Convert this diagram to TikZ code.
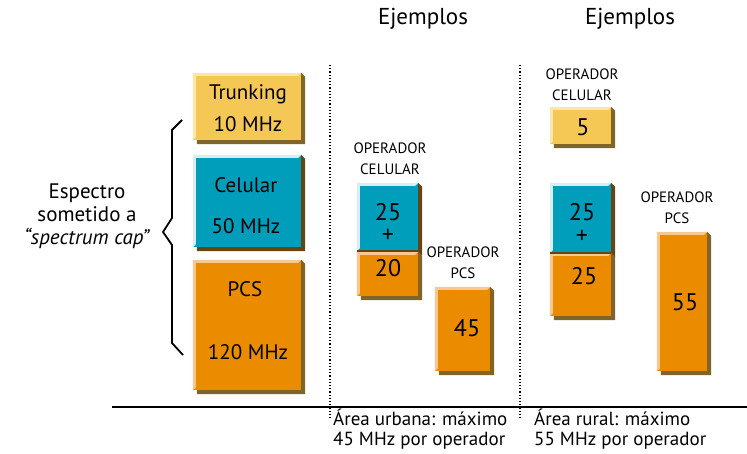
\documentclass[tikz,border=0pt]{standalone}
\usepackage{fontspec}
\setmainfont{PT Sans}
\definecolor{yellowc}{RGB}{245,200,85}
\definecolor{yellowl}{RGB}{251,230,176}
\definecolor{cyanc}{RGB}{0,158,187}
\definecolor{cyanl}{RGB}{216,238,242}
\definecolor{orangec}{RGB}{235,140,0}
\definecolor{orangel}{RGB}{248,200,144}
\definecolor{shadowc}{RGB}{128,100,40}
\definecolor{shadowb}{RGB}{100,70,20}
\tikzset{
  box/.style={fill=#1, draw=none, inner sep=0pt},
  lbl/.style={font=\fontsize{21}{23}\selectfont, inner sep=0pt},
  num/.style={font=\fontsize{24}{26}\selectfont, inner sep=0pt},
  oper/.style={font=\fontsize{15}{21}\selectfont, align=center, inner sep=0pt},
  note/.style={font=\fontsize{19}{20}\selectfont, align=left, anchor=north west, inner sep=0pt},
  head/.style={font=\fontsize{23}{25}\selectfont, inner sep=0pt},
  sep/.style={line width=1.2pt, dotted},
}
% bevelled block: shadow on right/bottom, highlight on top/left
\newcommand{\bevel}[3]{%
  \fill[#3] ([xshift=4pt]#1.south west) -- ([xshift=4pt,yshift=-4pt]#1.south west)
    -- ([xshift=4pt,yshift=-4pt]#1.south east) -- ([xshift=4pt,yshift=-4pt]#1.north east)
    -- (#1.north east) -- (#1.south east) -- cycle;
  \fill[#2] (#1.south west) -- (#1.north west) -- (#1.north east)
    -- ([xshift=-3pt,yshift=-3pt]#1.north east) -- ([xshift=3pt,yshift=-3pt]#1.north west)
    -- ([xshift=3pt,yshift=3pt]#1.south west) -- cycle;
}
\begin{document}
\begin{tikzpicture}[x=1pt,y=-1pt]
\useasboundingbox (0,0) rectangle (747,454);

% headings
\node[head] (h1) at (423,19) {Ejemplos};
\node[head] (h2) at (630,19) {Ejemplos};

% separators and baseline
\coordinate (s1t) at (330,65); \coordinate (s1b) at (330,418);
\coordinate (s2t) at (520,65); \coordinate (s2b) at (520,418);
\draw[sep] (s1t) -- (s1b);
\draw[sep] (s2t) -- (s2b);
\coordinate (bl) at (112,407); \coordinate (br) at (747,407);
\draw[line width=1.5pt] (bl) -- (br);

% spectrum blocks
\node[box=yellowc, minimum width=108pt, minimum height=67pt] (trunk) at (247,106.5) {};
\bevel{trunk}{yellowl}{shadowc}
\node[lbl] (trunkA) at (248,94) {Trunking};
\node[lbl] (trunkB) at (248,124) {10 MHz};

\node[box=cyanc, minimum width=108pt, minimum height=92pt] (cel) at (247,201) {};
\bevel{cel}{cyanl}{shadowb}
\node[lbl] (celA) at (246,185) {Celular};
\node[lbl] (celB) at (246,226) {50 MHz};

\node[box=orangec, minimum width=108pt, minimum height=130pt] (pcs) at (247,325) {};
\bevel{pcs}{orangel}{shadowc}
\node[lbl] (pcsA) at (245,289) {PCS};
\node[lbl] (pcsB) at (248,352) {120 MHz};

% angled brace and its label
\coordinate (bt) at (182,120);
\coordinate (bb) at (183,355);
\draw[line width=1.8pt, line join=miter] (bt) -- (172,130) -- (172,218) -- (163,232)
  -- (172,245) -- (172,343) -- (bb);
\node[lbl, align=center, font=\fontsize{21}{23}\selectfont] (spec) at (87,216)
  {Espectro\\sometido a\\\textit{“spectrum cap”}};

% urban example
\node[oper] (oc1) at (390,159) {OPERADOR\\CELULAR};
\node[box=cyanc, minimum width=61pt, minimum height=68pt] (c1) at (387.5,217) {};
\bevel{c1}{cyanl}{shadowb}
\node[box=orangec, minimum width=61pt, minimum height=44pt] (o1) at (387.5,274) {};
\bevel{o1}{orangel}{shadowc}
\draw[shadowb, line width=2pt] (c1.south west) -- (c1.south east);
\node[num] (c1n) at (388,212) {25};
\node[num] (c1p) at (388,236) {+};
\node[num] (o1n) at (388,268) {20};

\node[oper] (op1) at (463,263) {OPERADOR\\PCS};
\node[box=orangec, minimum width=55pt, minimum height=84pt] (p1) at (462.5,329) {};
\bevel{p1}{orangel}{shadowc}
\node[num] (p1n) at (467,328) {45};

% rural example
\node[oper] (oc2) at (582,85) {OPERADOR\\CELULAR};
\node[box=yellowc, minimum width=61pt, minimum height=37pt] (y2) at (580.5,125.5) {};
\bevel{y2}{yellowl}{shadowc}
\node[num] (y2n) at (583,127) {5};

\node[box=cyanc, minimum width=61pt, minimum height=70pt] (c2) at (580.5,218) {};
\bevel{c2}{cyanl}{shadowb}
\node[box=orangec, minimum width=61pt, minimum height=63pt] (o2) at (580.5,284.5) {};
\bevel{o2}{orangel}{shadowc}
\draw[shadowb, line width=2pt] (c2.south west) -- (c2.south east);
\node[num] (c2n) at (582,212) {25};
\node[num] (c2p) at (582,237) {+};
\node[num] (o2n) at (584,276) {25};

\node[oper] (op2) at (677,208) {OPERADOR\\PCS};
\node[box=orangec, minimum width=50pt, minimum height=139pt] (p2) at (682,301.5) {};
\bevel{p2}{orangel}{shadowc}
\node[num] (p2n) at (685,302) {55};

% notes under the baseline
\node[note] (n1) at (333,409) {Área urbana: máximo\\45 MHz por operador};
\node[note] (n2) at (534,409) {Área rural: máximo\\55 MHz por operador};
\end{tikzpicture}
\end{document}
